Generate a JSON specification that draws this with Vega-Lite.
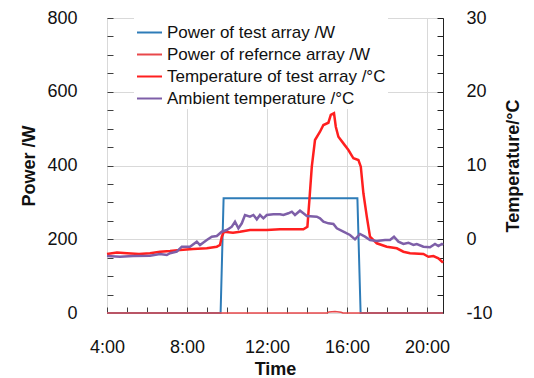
{
"$schema": "https://vega.github.io/schema/vega-lite/v6.json",
"width": 336, "height": 295,
"autosize": {"type": "none"},
"padding": {"left": 107, "top": 18, "right": 91, "bottom": 65},
"background": "white",
"config": {
  "font": "Liberation Sans",
  "view": {"stroke": "#7f7f7f", "strokeWidth": 1},
  "axis": {"labelFont": "Liberation Sans", "labelFontSize": 18, "labelColor": "#111111", "titleFont": "Liberation Sans", "titleFontSize": 18, "titleFontWeight": "bold", "titleColor": "#111111", "labelFlush": false, "labelOverlap": false, "tickSize": -6, "tickColor": "#404040", "domain": false},
  "legend": {"orient": "none", "legendX": 27, "legendY": -1, "fillColor": "white", "padding": 2, "labelFont": "Liberation Sans", "labelFontSize": 17, "labelColor": "#111111", "symbolType": "stroke", "symbolSize": 625, "symbolStrokeWidth": 2, "rowPadding": 0, "labelOffset": 4, "title": null, "labelLimit": 400}
},
"data": {"name": "d"},
"datasets": {"d": [
{"s":"Power of test array /W","t":4,"v":0},
{"s":"Power of test array /W","t":9.68,"v":0},
{"s":"Power of test array /W","t":9.83,"v":311},
{"s":"Power of test array /W","t":16.52,"v":311},
{"s":"Power of test array /W","t":16.68,"v":0},
{"s":"Power of test array /W","t":20.8,"v":0},
{"s":"Power of refernce array /W","t":4,"v":0},
{"s":"Power of refernce array /W","t":15.0,"v":0},
{"s":"Power of refernce array /W","t":15.1,"v":3},
{"s":"Power of refernce array /W","t":15.4,"v":4},
{"s":"Power of refernce array /W","t":15.7,"v":2},
{"s":"Power of refernce array /W","t":15.8,"v":0},
{"s":"Power of refernce array /W","t":20.8,"v":0},
{"s":"Temperature of test array /°C","t":4.0,"v":-2.0},
{"s":"Temperature of test array /°C","t":4.5,"v":-1.8},
{"s":"Temperature of test array /°C","t":5.0,"v":-1.9},
{"s":"Temperature of test array /°C","t":5.6,"v":-2.0},
{"s":"Temperature of test array /°C","t":6.15,"v":-1.9},
{"s":"Temperature of test array /°C","t":6.65,"v":-1.69},
{"s":"Temperature of test array /°C","t":7.15,"v":-1.6},
{"s":"Temperature of test array /°C","t":7.65,"v":-1.46},
{"s":"Temperature of test array /°C","t":8.3,"v":-1.32},
{"s":"Temperature of test array /°C","t":8.99,"v":-1.23},
{"s":"Temperature of test array /°C","t":9.49,"v":-1.01},
{"s":"Temperature of test array /°C","t":9.65,"v":-0.78},
{"s":"Temperature of test array /°C","t":9.74,"v":0.35},
{"s":"Temperature of test array /°C","t":9.85,"v":1.02},
{"s":"Temperature of test array /°C","t":10.3,"v":0.89},
{"s":"Temperature of test array /°C","t":10.65,"v":1.02},
{"s":"Temperature of test array /°C","t":11.15,"v":1.25},
{"s":"Temperature of test array /°C","t":11.99,"v":1.25},
{"s":"Temperature of test array /°C","t":12.65,"v":1.35},
{"s":"Temperature of test array /°C","t":13.82,"v":1.35},
{"s":"Temperature of test array /°C","t":14.02,"v":1.7},
{"s":"Temperature of test array /°C","t":14.12,"v":5.32},
{"s":"Temperature of test array /°C","t":14.24,"v":9.84},
{"s":"Temperature of test array /°C","t":14.4,"v":13.46},
{"s":"Temperature of test array /°C","t":14.65,"v":14.58},
{"s":"Temperature of test array /°C","t":14.82,"v":15.49},
{"s":"Temperature of test array /°C","t":15.07,"v":15.8},
{"s":"Temperature of test array /°C","t":15.19,"v":16.85},
{"s":"Temperature of test array /°C","t":15.35,"v":17.08},
{"s":"Temperature of test array /°C","t":15.44,"v":15.26},
{"s":"Temperature of test array /°C","t":15.57,"v":13.9},
{"s":"Temperature of test array /°C","t":15.82,"v":13.0},
{"s":"Temperature of test array /°C","t":16.07,"v":12.1},
{"s":"Temperature of test array /°C","t":16.32,"v":10.98},
{"s":"Temperature of test array /°C","t":16.57,"v":10.75},
{"s":"Temperature of test array /°C","t":16.69,"v":9.84},
{"s":"Temperature of test array /°C","t":16.82,"v":6.23},
{"s":"Temperature of test array /°C","t":16.99,"v":3.06},
{"s":"Temperature of test array /°C","t":17.15,"v":0.35},
{"s":"Temperature of test array /°C","t":17.49,"v":-0.55},
{"s":"Temperature of test array /°C","t":17.99,"v":-1.01},
{"s":"Temperature of test array /°C","t":18.49,"v":-1.23},
{"s":"Temperature of test array /°C","t":18.82,"v":-1.69},
{"s":"Temperature of test array /°C","t":19.15,"v":-1.9},
{"s":"Temperature of test array /°C","t":19.82,"v":-2.0},
{"s":"Temperature of test array /°C","t":20.07,"v":-2.37},
{"s":"Temperature of test array /°C","t":20.32,"v":-2.27},
{"s":"Temperature of test array /°C","t":20.57,"v":-2.58},
{"s":"Temperature of test array /°C","t":20.8,"v":-3.18},
{"s":"Ambient temperature /°C","t":4.0,"v":-2.27},
{"s":"Ambient temperature /°C","t":4.65,"v":-2.37},
{"s":"Ambient temperature /°C","t":5.3,"v":-2.27},
{"s":"Ambient temperature /°C","t":6.15,"v":-2.23},
{"s":"Ambient temperature /°C","t":6.65,"v":-2.0},
{"s":"Ambient temperature /°C","t":6.99,"v":-2.14},
{"s":"Ambient temperature /°C","t":7.15,"v":-1.9},
{"s":"Ambient temperature /°C","t":7.49,"v":-1.69},
{"s":"Ambient temperature /°C","t":7.74,"v":-1.01},
{"s":"Ambient temperature /°C","t":8.15,"v":-1.01},
{"s":"Ambient temperature /°C","t":8.49,"v":-0.33},
{"s":"Ambient temperature /°C","t":8.65,"v":-0.78},
{"s":"Ambient temperature /°C","t":8.99,"v":-0.1},
{"s":"Ambient temperature /°C","t":9.24,"v":0.35},
{"s":"Ambient temperature /°C","t":9.49,"v":0.44},
{"s":"Ambient temperature /°C","t":9.74,"v":1.02},
{"s":"Ambient temperature /°C","t":9.99,"v":1.25},
{"s":"Ambient temperature /°C","t":10.24,"v":1.7},
{"s":"Ambient temperature /°C","t":10.4,"v":2.38},
{"s":"Ambient temperature /°C","t":10.57,"v":1.48},
{"s":"Ambient temperature /°C","t":10.74,"v":2.16},
{"s":"Ambient temperature /°C","t":10.9,"v":3.29},
{"s":"Ambient temperature /°C","t":11.15,"v":3.06},
{"s":"Ambient temperature /°C","t":11.32,"v":3.29},
{"s":"Ambient temperature /°C","t":11.49,"v":2.7},
{"s":"Ambient temperature /°C","t":11.65,"v":3.29},
{"s":"Ambient temperature /°C","t":11.82,"v":2.84},
{"s":"Ambient temperature /°C","t":11.99,"v":3.29},
{"s":"Ambient temperature /°C","t":12.32,"v":3.38},
{"s":"Ambient temperature /°C","t":12.65,"v":3.38},
{"s":"Ambient temperature /°C","t":12.82,"v":3.29},
{"s":"Ambient temperature /°C","t":13.07,"v":3.52},
{"s":"Ambient temperature /°C","t":13.24,"v":3.74},
{"s":"Ambient temperature /°C","t":13.4,"v":3.29},
{"s":"Ambient temperature /°C","t":13.65,"v":3.87},
{"s":"Ambient temperature /°C","t":13.82,"v":3.52},
{"s":"Ambient temperature /°C","t":13.99,"v":3.15},
{"s":"Ambient temperature /°C","t":14.49,"v":3.06},
{"s":"Ambient temperature /°C","t":14.65,"v":2.84},
{"s":"Ambient temperature /°C","t":14.82,"v":2.38},
{"s":"Ambient temperature /°C","t":15.07,"v":2.16},
{"s":"Ambient temperature /°C","t":15.32,"v":2.07},
{"s":"Ambient temperature /°C","t":15.49,"v":1.48},
{"s":"Ambient temperature /°C","t":15.82,"v":1.02},
{"s":"Ambient temperature /°C","t":16.15,"v":0.58},
{"s":"Ambient temperature /°C","t":16.4,"v":-0.01},
{"s":"Ambient temperature /°C","t":16.65,"v":0.71},
{"s":"Ambient temperature /°C","t":16.9,"v":0.35},
{"s":"Ambient temperature /°C","t":17.15,"v":-0.1},
{"s":"Ambient temperature /°C","t":17.49,"v":-0.24},
{"s":"Ambient temperature /°C","t":17.9,"v":-0.1},
{"s":"Ambient temperature /°C","t":18.15,"v":-0.1},
{"s":"Ambient temperature /°C","t":18.35,"v":0.35},
{"s":"Ambient temperature /°C","t":18.57,"v":-0.33},
{"s":"Ambient temperature /°C","t":18.82,"v":-0.64},
{"s":"Ambient temperature /°C","t":19.07,"v":-0.47},
{"s":"Ambient temperature /°C","t":19.32,"v":-0.78},
{"s":"Ambient temperature /°C","t":19.49,"v":-0.64},
{"s":"Ambient temperature /°C","t":19.82,"v":-1.01},
{"s":"Ambient temperature /°C","t":20.15,"v":-1.09},
{"s":"Ambient temperature /°C","t":20.4,"v":-0.64},
{"s":"Ambient temperature /°C","t":20.57,"v":-0.92},
{"s":"Ambient temperature /°C","t":20.74,"v":-0.64},
{"s":"Ambient temperature /°C","t":20.8,"v":-0.78}
]},
"layer": [
 {"layer": [
  {"transform": [{"filter": "datum.s === 'Power of test array /W'"}],
   "mark": {"type": "line", "strokeWidth": 2},
   "encoding": {
    "x": {"field": "t", "type": "quantitative", "title": "Time", "scale": {"domain": [4, 20.8], "nice": false, "zero": false},
      "axis": {"values": [4,5,6,7,8,9,10,11,12,13,14,15,16,17,18,19,20], "labelExpr": "datum.value % 4 === 0 ? datum.value + ':00' : ''", "grid": true, "gridColor": {"condition": {"test": "datum.value % 4 === 0", "value": "#d9d9d9"}, "value": "transparent"}, "labelPadding": 31, "titlePadding": 4}},
    "y": {"field": "v", "type": "quantitative", "title": "Power /W", "scale": {"domain": [0, 800], "nice": false},
      "axis": {"orient": "left", "values": [0,50,100,150,200,250,300,350,400,450,500,550,600,650,700,750,800], "labelExpr": "datum.value % 200 === 0 ? datum.label : ''", "grid": true, "gridColor": {"condition": {"test": "datum.value % 200 === 0", "value": "#d9d9d9"}, "value": "transparent"}, "labelPadding": 36, "titlePadding": 8}},
    "color": {"field": "s", "type": "nominal", "scale": {"domain": ["Power of test array /W", "Power of refernce array /W", "Temperature of test array /°C", "Ambient temperature /°C"], "range": ["#2E7CB8", "#E8484B", "#FF1F1F", "#7E5FA8"]}}
   }},
  {"transform": [{"filter": "datum.s === 'Power of refernce array /W'"}],
   "mark": {"type": "line", "strokeWidth": 1.5},
   "encoding": {
    "x": {"field": "t", "type": "quantitative", "title": "Time", "scale": {"domain": [4, 20.8], "nice": false, "zero": false},
      "axis": {"values": [4,5,6,7,8,9,10,11,12,13,14,15,16,17,18,19,20], "labelExpr": "datum.value % 4 === 0 ? datum.value + ':00' : ''", "grid": true, "gridColor": {"condition": {"test": "datum.value % 4 === 0", "value": "#d9d9d9"}, "value": "transparent"}, "labelPadding": 31, "titlePadding": 4}},
    "y": {"field": "v", "type": "quantitative", "title": "Power /W", "scale": {"domain": [0, 800], "nice": false},
      "axis": {"orient": "left", "values": [0,50,100,150,200,250,300,350,400,450,500,550,600,650,700,750,800], "labelExpr": "datum.value % 200 === 0 ? datum.label : ''", "grid": true, "gridColor": {"condition": {"test": "datum.value % 200 === 0", "value": "#d9d9d9"}, "value": "transparent"}, "labelPadding": 36, "titlePadding": 8}},
    "color": {"field": "s", "type": "nominal", "scale": {"domain": ["Power of test array /W", "Power of refernce array /W", "Temperature of test array /°C", "Ambient temperature /°C"], "range": ["#2E7CB8", "#E8484B", "#FF1F1F", "#7E5FA8"]}}
   }}
 ]},
 {"layer": [
  {"transform": [{"filter": "datum.s === 'Temperature of test array /°C'"}],
   "mark": {"type": "line", "strokeWidth": 2.5},
   "encoding": {
    "x": {"field": "t", "type": "quantitative", "title": "Time", "scale": {"domain": [4, 20.8], "nice": false, "zero": false},
      "axis": {"values": [4,5,6,7,8,9,10,11,12,13,14,15,16,17,18,19,20], "labelExpr": "datum.value % 4 === 0 ? datum.value + ':00' : ''", "grid": true, "gridColor": {"condition": {"test": "datum.value % 4 === 0", "value": "#d9d9d9"}, "value": "transparent"}, "labelPadding": 31, "titlePadding": 4}},
    "y": {"field": "v", "type": "quantitative", "title": "Temperature/°C", "scale": {"domain": [-10, 30], "nice": false, "zero": false},
      "axis": {"orient": "right", "values": [-10,-7.5,-5,-2.5,0,2.5,5,7.5,10,12.5,15,17.5,20,22.5,25,27.5,30], "labelExpr": "datum.value % 10 === 0 ? '' + datum.value : ''", "grid": false, "domain": true, "domainColor": "#222222", "tickColor": "#222222", "labelPadding": 29, "titlePadding": 30, "titleAngle": 270}},
    "color": {"field": "s", "type": "nominal", "scale": {"domain": ["Power of test array /W", "Power of refernce array /W", "Temperature of test array /°C", "Ambient temperature /°C"], "range": ["#2E7CB8", "#E8484B", "#FF1F1F", "#7E5FA8"]}}
   }},
  {"transform": [{"filter": "datum.s === 'Ambient temperature /°C'"}],
   "mark": {"type": "line", "strokeWidth": 2.5},
   "encoding": {
    "x": {"field": "t", "type": "quantitative", "title": "Time", "scale": {"domain": [4, 20.8], "nice": false, "zero": false},
      "axis": {"values": [4,5,6,7,8,9,10,11,12,13,14,15,16,17,18,19,20], "labelExpr": "datum.value % 4 === 0 ? datum.value + ':00' : ''", "grid": true, "gridColor": {"condition": {"test": "datum.value % 4 === 0", "value": "#d9d9d9"}, "value": "transparent"}, "labelPadding": 31, "titlePadding": 4}},
    "y": {"field": "v", "type": "quantitative", "title": "Temperature/°C", "scale": {"domain": [-10, 30], "nice": false, "zero": false},
      "axis": {"orient": "right", "values": [-10,-7.5,-5,-2.5,0,2.5,5,7.5,10,12.5,15,17.5,20,22.5,25,27.5,30], "labelExpr": "datum.value % 10 === 0 ? '' + datum.value : ''", "grid": false, "domain": true, "domainColor": "#222222", "tickColor": "#222222", "labelPadding": 29, "titlePadding": 30, "titleAngle": 270}},
    "color": {"field": "s", "type": "nominal", "scale": {"domain": ["Power of test array /W", "Power of refernce array /W", "Temperature of test array /°C", "Ambient temperature /°C"], "range": ["#2E7CB8", "#E8484B", "#FF1F1F", "#7E5FA8"]}}
   }}
 ]}
],
"resolve": {"scale": {"y": "independent"}}
}
